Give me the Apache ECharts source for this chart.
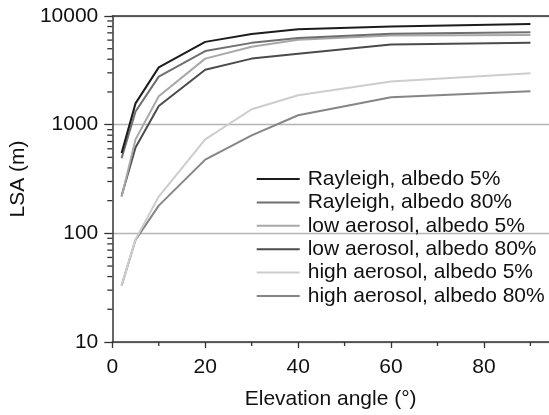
<!DOCTYPE html>
<html>
<head>
<meta charset="utf-8">
<script src="https://cdn.jsdelivr.net/npm/echarts@6/dist/echarts.min.js"></script>
<style>
html,body{margin:0;padding:0;background:#fff;}
#chart{width:549px;height:415px;}
</style>
</head>
<body>
<div id="chart"></div>
<script>
const angles = [2, 5, 10, 20, 30, 40, 60, 90];
const seriesNames = [
  'Rayleigh, albedo 5%',
  'Rayleigh, albedo 80%',
  'low aerosol, albedo 5%',
  'low aerosol, albedo 80%',
  'high aerosol, albedo 5%',
  'high aerosol, albedo 80%'
];
const rayleigh5   = [547, 1570, 3365, 5780, 6820, 7570, 8000, 8450];
const rayleigh80  = [490, 1321, 2768, 4753, 5660, 6280, 6870, 7100];
const lowAer5     = [216, 732, 1827, 4055, 5210, 6060, 6620, 6700];
const lowAer80    = [222, 616, 1485, 3201, 4055, 4500, 5460, 5660];
const highAer5    = [33, 88, 218, 732, 1386, 1866, 2495, 2970];
const highAer80   = [33, 87, 180, 477, 796, 1220, 1790, 2027];
const yMinorTicks = [20, 30, 40, 50, 60, 70, 80, 90, 200, 300, 400, 500, 600, 700, 800, 900, 2000, 3000, 4000, 5000, 6000, 7000, 8000, 9000];
const xMinorTicks = [10, 30, 50, 70, 90];

const colors = ['#1c1c1c', '#6f6f6f', '#a8a8a8', '#4b4b4b', '#cdcdcd', '#858585'];
const allValues = [rayleigh5, rayleigh80, lowAer5, lowAer80, highAer5, highAer80];

const FONT = 'Liberation Sans, Arial, Helvetica, sans-serif';
const AXIS_COLOR = '#333333';

const chart = echarts.init(document.getElementById('chart'), null, {renderer: 'canvas'});

const lineSeries = seriesNames.map((n, i) => ({
  name: n,
  type: 'line',
  data: angles.map((a, j) => [a, allValues[i][j]]),
  showSymbol: false,
  symbol: 'none',
  lineStyle: {color: colors[i], width: 2},
  itemStyle: {color: colors[i]},
  z: 10 - i
}));

const yMinorSeries = {
  type: 'custom',
  name: 'yminor',
  silent: true,
  clip: false,
  data: yMinorTicks.map(v => [0, v]),
  renderItem: function (params, api) {
    const p = api.coord([api.value(0), api.value(1)]);
    return {
      type: 'line',
      shape: {x1: p[0] - 5, y1: p[1], x2: p[0], y2: p[1]},
      style: {stroke: AXIS_COLOR, lineWidth: 1.3}
    };
  }
};
const xMinorSeries = {
  type: 'custom',
  name: 'xminor',
  silent: true,
  clip: false,
  data: xMinorTicks.map(v => [v, 10]),
  renderItem: function (params, api) {
    const p = api.coord([api.value(0), api.value(1)]);
    return {
      type: 'line',
      shape: {x1: p[0], y1: p[1], x2: p[0], y2: p[1] + 4},
      style: {stroke: AXIS_COLOR, lineWidth: 1.3}
    };
  }
};

chart.setOption({
  backgroundColor: '#ffffff',
  animation: false,
  textStyle: {fontFamily: FONT},
  grid: {left: 111.7, right: 0, top: 16, bottom: 66.7, containLabel: false},
  legend: {
    data: seriesNames,
    orient: 'vertical',
    left: 256.7,
    top: 168.5,
    padding: 0,
    itemGap: 2.4,
    itemWidth: 43,
    itemHeight: 2,
    icon: 'rect',
    selectedMode: false,
    textStyle: {fontFamily: FONT, fontSize: 21, color: '#111', lineHeight: 21, padding: [0, 0, 0, 3]}
  },
  xAxis: [{
    type: 'value',
    min: 0,
    max: 94,
    interval: 20,
    name: 'Elevation angle (°)',
    nameLocation: 'middle',
    nameGap: 47,
    nameTextStyle: {fontFamily: FONT, fontSize: 21, color: '#111'},
    axisLine: {show: true, lineStyle: {color: AXIS_COLOR, width: 1.5}},
    axisTick: {show: true, length: 6, lineStyle: {color: AXIS_COLOR, width: 1.3}},
    axisLabel: {fontFamily: FONT, fontSize: 21, color: '#111', margin: 15, showMaxLabel: false},
    splitLine: {show: false}
  }, {
    type: 'value',
    position: 'top',
    min: 0,
    max: 94,
    axisLine: {show: true, lineStyle: {color: AXIS_COLOR, width: 1.5}},
    axisTick: {show: false},
    axisLabel: {show: false},
    splitLine: {show: false}
  }],
  yAxis: {
    type: 'log',
    logBase: 10,
    min: 10,
    max: 10000,
    name: 'LSA (m)',
    nameLocation: 'middle',
    nameGap: 80,
    nameTextStyle: {fontFamily: FONT, fontSize: 21, color: '#111'},
    axisLine: {show: true, lineStyle: {color: AXIS_COLOR, width: 1.5}},
    axisTick: {show: true, length: 8, lineStyle: {color: AXIS_COLOR, width: 1.3}},
    axisLabel: {fontFamily: FONT, fontSize: 21, color: '#111', margin: 14,
      formatter: function (v) { return String(Math.round(v)); }},
    splitLine: {show: true, lineStyle: {color: '#b4b4b4', width: 1.3}},
    minorTick: {show: false}
  },
  series: lineSeries.concat([yMinorSeries, xMinorSeries])
});
</script>
</body>
</html>
